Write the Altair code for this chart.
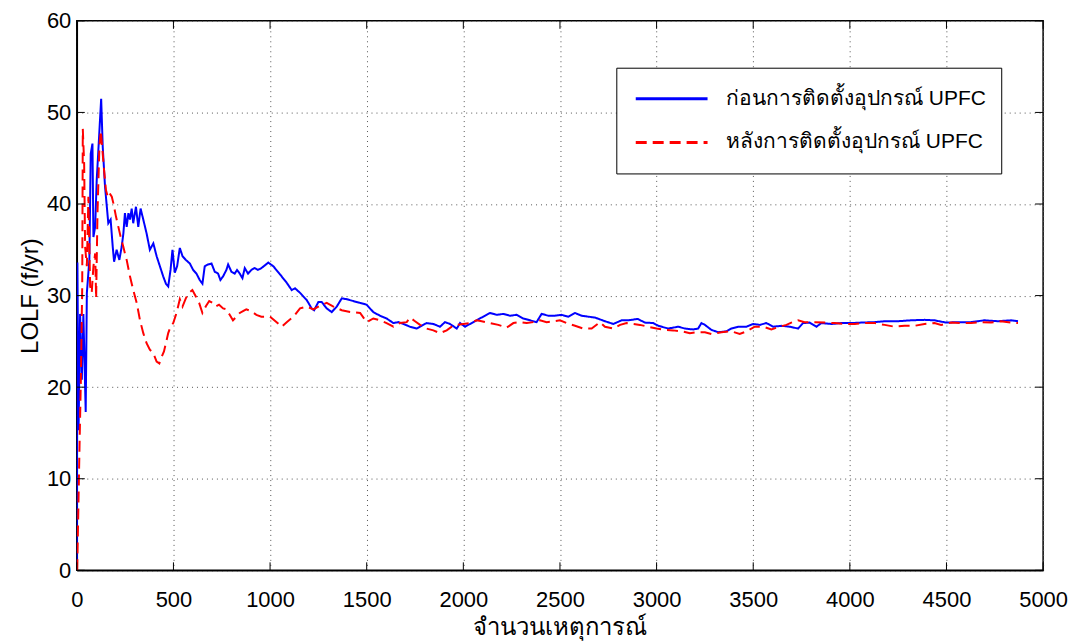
import altair as alt
import pandas as pd

series_names = ["ก่อนการติดตั้งอุปกรณ์ UPFC", "หลังการติดตั้งอุปกรณ์ UPFC"]

before_x = [0, 3, 9, 17, 26, 34, 46, 52, 65, 72, 81, 86, 95, 103, 117, 126, 134, 146, 163, 175,
            186, 193, 206, 220, 232, 241, 249, 258, 267, 275, 284, 292, 306, 318, 330, 344, 361, 378,
            396, 413, 430, 447, 461, 473, 485, 495, 507, 519, 533, 547, 564, 585, 602, 619, 636, 650,
            662, 679, 697, 714, 731, 743, 757, 774, 783, 800, 817, 829, 843, 857, 869, 886, 903, 920,
            937, 955, 991, 1017, 1052, 1086, 1112, 1129, 1155, 1190, 1215, 1228, 1250, 1267, 1293,
            1319, 1345, 1371, 1397, 1431, 1466, 1500, 1534, 1569, 1603, 1638, 1664, 1690, 1724, 1759,
            1784, 1810, 1845, 1879, 1905, 1931, 1966, 1983, 2009, 2043, 2069, 2103, 2138, 2172, 2207,
            2241, 2276, 2310, 2345, 2379, 2405, 2440, 2474, 2508, 2543, 2578, 2612, 2646, 2681, 2733,
            2776, 2819, 2854, 2902, 2940, 2983, 3009, 3060, 3112, 3146, 3189, 3215, 3232, 3250, 3284,
            3319, 3362, 3387, 3422, 3465, 3499, 3534, 3568, 3603, 3646, 3689, 3732, 3758, 3792, 3827,
            3852, 3904, 3956, 4007, 4059, 4128, 4180, 4248, 4317, 4386, 4438, 4498, 4558, 4627, 4696,
            4765, 4834, 4870]
before_y = [0, 33.6, 15.3, 28, 20.8, 28, 17.3, 30.3, 33.9, 45.5, 46.6, 36.4, 37.5, 42.6, 48, 51.5,
            46.3, 41.9, 37.9, 38.3, 35.3, 33.7, 35, 33.9, 35.3, 36.8, 39, 37.5, 39, 38.3, 39.5, 37.9,
            39.7, 37.5, 39.5, 38.3, 36.8, 35, 35.7, 34.3, 33.2, 32.1, 31.3, 31, 32.8, 35, 32.5, 33.2,
            35.2, 34.3, 33.9, 33.5, 32.8, 32.4, 31.7, 31.3, 33.2, 33.4, 33.5, 32.6, 32.4, 31.7, 32.1,
            32.8, 33.4, 32.6, 32.4, 32.8, 32.4, 31.9, 33, 32.4, 32.8, 33, 32.8, 33, 33.6, 33.2, 32.3,
            31.4, 30.6, 30.8, 30.3, 29.5, 28.6, 28.4, 29.3, 29.3, 28.6, 28.2, 28.8, 29.7, 29.6, 29.4,
            29.2, 29, 28.2, 27.8, 27.5, 27, 27.1, 26.9, 26.6, 26.4, 26.7, 27, 26.9, 26.6, 27.1, 26.9,
            26.4, 27, 26.6, 27, 27.3, 27.7, 28.1, 27.9, 28, 27.8, 27.9, 27.5, 27.3, 27.1, 28, 27.8,
            27.8, 27.9, 27.7, 28.1, 27.8, 27.7, 27.6, 27.2, 26.9, 27.3, 27.3, 27.45, 27.05, 27, 26.7,
            26.4, 26.6, 26.4, 26.3, 26.4, 27, 26.8, 26.25, 26, 26.1, 26.4, 26.6, 26.6, 26.9, 26.8, 27,
            26.6, 26.7, 26.6, 26.4, 27, 27.05, 26.6, 27, 26.9, 27, 27, 27.05, 27.1, 27.2, 27.2, 27.3,
            27.35, 27.3, 27.05, 27.1, 27.1, 27.3, 27.2, 27.3, 27.2]

after_x = [2, 14, 21, 28, 31, 38, 43, 52, 60, 69, 77, 86, 95, 100, 107, 117, 124, 131, 141, 151,
           160, 169, 181, 189, 203, 215, 227, 241, 249, 258, 275, 292, 310, 327, 344, 361, 378, 396,
           413, 427, 439, 451, 461, 473, 485, 499, 516, 533, 547, 564, 581, 598, 616, 633, 650, 667,
           685, 702, 719, 736, 757, 774, 791, 808, 826, 843, 860, 877, 903, 929, 955, 1000, 1034,
           1060, 1086, 1121, 1155, 1190, 1224, 1259, 1293, 1328, 1371, 1414, 1466, 1500, 1534, 1569,
           1603, 1638, 1672, 1707, 1724, 1750, 1776, 1810, 1845, 1879, 1914, 1940, 1966, 2000, 2034,
           2069, 2095, 2138, 2181, 2224, 2259, 2293, 2328, 2362, 2397, 2431, 2466, 2500, 2534, 2578,
           2621, 2664, 2707, 2733, 2776, 2811, 2845, 2879, 2914, 2957, 3000, 3043, 3086, 3129, 3172,
           3207, 3250, 3284, 3336, 3387, 3430, 3465, 3508, 3551, 3594, 3637, 3672, 3697, 3732, 3766,
           3818, 3870, 3921, 3973, 4025, 4076, 4128, 4180, 4231, 4283, 4335, 4386, 4438, 4472, 4524,
           4576, 4627, 4679, 4731, 4782, 4834, 4870]
after_y = [0, 13.5, 20.8, 31, 48.2, 44.4, 35.3, 33.2, 40.8, 31, 30.3, 33.2, 34.6, 29.7, 39, 46.3,
           48, 46.3, 43.7, 41.5, 40.8, 41.2, 40.8, 40.1, 38.6, 37.5, 36.4, 35.3, 34.6, 33.9, 32.1,
           30.6, 29.2, 27.3, 25.9, 24.8, 24.1, 23.7, 22.8, 22.6, 23.3, 23.9, 24.8, 25.9, 26.6, 27,
           28.1, 29.6, 28.8, 29.7, 30.3, 30.6, 29.9, 29.2, 28.1, 28.8, 29.4, 29.2, 28.8, 29, 28.6,
           28.5, 27.9, 27.3, 27.7, 28.1, 28.3, 28.5, 28.3, 27.9, 27.7, 27.7, 27.1, 26.6, 27.1, 27.7,
           28.6, 28.8, 28.5, 28.9, 29.2, 28.8, 28.4, 28.2, 28.1, 27.1, 27.5, 27.3, 27, 26.6, 27,
           27.1, 27.6, 27.2, 26.8, 26.4, 26.2, 25.9, 26.2, 26.6, 26.8, 26.9, 27, 27.3, 27.2, 27,
           26.8, 26.5, 27, 27.1, 27, 27.1, 27.3, 27.1, 27.2, 27.3, 27, 26.7, 26.4, 26.4, 27.1, 26.6,
           26.4, 26.8, 27, 26.9, 26.8, 26.6, 26.4, 26.25, 26.2, 26.1, 25.9, 26, 26, 25.8, 26, 26.1,
           25.8, 26.1, 26.6, 26.6, 26.3, 26.6, 26.8, 27.05, 27.3, 27.1, 27.1, 27.05, 27, 26.9, 26.9,
           27, 27, 26.8, 26.6, 26.7, 26.7, 26.9, 27, 26.8, 27.05, 27, 27, 27.1, 27.05, 27.2, 27.05,
           27]

x_ticks = [0, 500, 1000, 1500, 2000, 2500, 3000, 3500, 4000, 4500, 5000]
y_ticks = [0, 10, 20, 30, 40, 50, 60]

df = pd.concat([
    pd.DataFrame({"events": before_x, "lolf": before_y, "series": series_names[0], "order": range(len(before_x))}),
    pd.DataFrame({"events": after_x, "lolf": after_y, "series": series_names[1], "order": range(len(after_x))}),
])

W, H = 969, 551
FONT = "Liberation Sans, Arial, sans-serif"

xscale = alt.Scale(domain=[0, 5000], nice=False)
yscale = alt.Scale(domain=[0, 60], nice=False)

grid_style = dict(grid=True, gridColor="#555555", gridDash=[1, 4], gridWidth=1, gridOpacity=1,
                  ticks=False, domainColor="black", domainWidth=1.5, labelColor="black",
                  titleColor="black", titleFontWeight="normal", labelFont=FONT, titleFont=FONT,
                  labelFlush=False, format="d")

lines = alt.Chart(df).mark_line(strokeWidth=2, clip=True).encode(
    x=alt.X("events:Q", scale=xscale,
            axis=alt.Axis(values=x_ticks, title="จำนวนเหตุการณ์",
                          labelFontSize=22, titleFontSize=24, labelPadding=19, titlePadding=5,
                          **grid_style)),
    y=alt.Y("lolf:Q", scale=yscale,
            axis=alt.Axis(values=y_ticks, title="LOLF (f/yr)",
                          labelFontSize=22, titleFontSize=24, labelPadding=6, titlePadding=4,
                          **grid_style)),
    color=alt.Color("series:N", scale=alt.Scale(domain=series_names, range=["#0000ff", "#ff0000"]),
                    legend=alt.Legend(title=None, orient="none", legendX=541, legendY=47,
                                      symbolType="stroke", symbolSize=5184, symbolStrokeWidth=3,
                                      labelFontSize=21, labelFont=FONT, labelLimit=400,
                                      labelColor="black",
                                      labelOffset=17, padding=16, rowPadding=14, clipHeight=30,
                                      strokeColor="black", fillColor="white", symbolOffset=2)),
    strokeDash=alt.StrokeDash("series:N", scale=alt.Scale(domain=series_names, range=[[1, 0], [11, 6]]),
                              legend=None),
    detail="series:N",
    order="order:Q",
)

tick_df_x = pd.DataFrame({"t": x_ticks})
tick_df_y = pd.DataFrame({"t": y_ticks})
xt_bottom = alt.Chart(tick_df_x).mark_rule(color="black", strokeWidth=1).encode(
    x=alt.X("t:Q", scale=xscale), y=alt.value(H), y2=alt.value(H - 8))
xt_top = alt.Chart(tick_df_x).mark_rule(color="black", strokeWidth=1).encode(
    x=alt.X("t:Q", scale=xscale), y=alt.value(0), y2=alt.value(8))
yt_left = alt.Chart(tick_df_y).mark_rule(color="black", strokeWidth=1).encode(
    y=alt.Y("t:Q", scale=yscale), x=alt.value(0), x2=alt.value(8))
yt_right = alt.Chart(tick_df_y).mark_rule(color="black", strokeWidth=1).encode(
    y=alt.Y("t:Q", scale=yscale), x=alt.value(W), x2=alt.value(W - 8))

chart = alt.layer(lines, xt_bottom, xt_top, yt_left, yt_right).properties(
    width=W, height=H,
    background="white",
    autosize=alt.AutoSizeParams(type="none"),
    padding={"left": 69, "top": 12, "right": 40, "bottom": 72},
).configure_view(stroke="black", strokeWidth=1.5)

chart.save("out.html", embed_options={"renderer": "svg", "actions": False})
